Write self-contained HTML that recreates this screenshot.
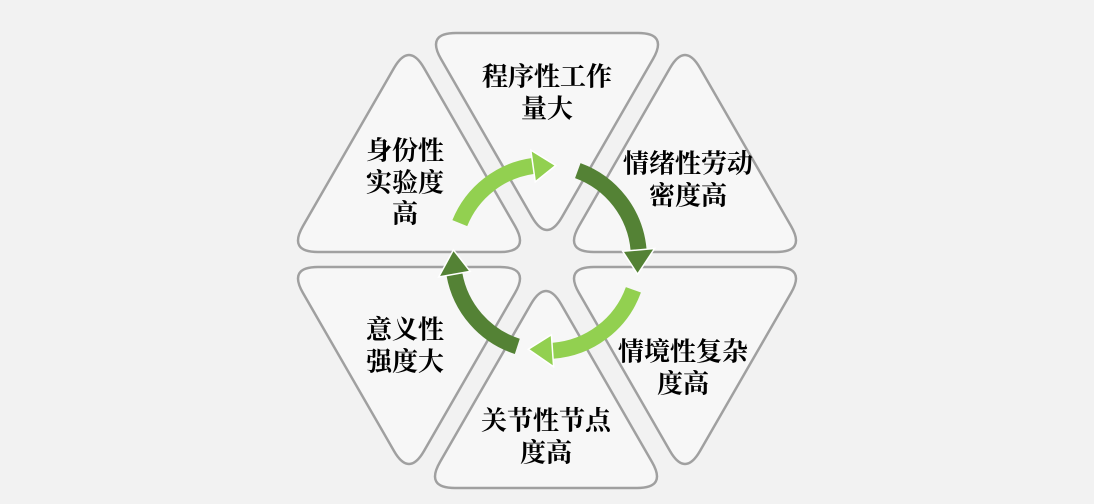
<!DOCTYPE html>
<html><head><meta charset="utf-8"><style>
html,body{margin:0;padding:0;background:#f2f2f2;}
svg{display:block}
text{font-family:"Liberation Serif","Noto Serif CJK SC",serif;font-weight:bold;font-size:26px;fill:#000;text-anchor:middle;dominant-baseline:central}
</style></head><body>
<svg width="1094" height="504" viewBox="0 0 1094 504" xmlns="http://www.w3.org/2000/svg">
<defs>
<path id="tri" d="M-15,12 Q0,-14 15,12 L106,170 Q121,196 91,196 L-91,196 Q-121,196 -106,170 Z" fill="#f7f7f7" stroke="#a0a0a0" stroke-width="2.5"/>
</defs>
<rect width="1094" height="504" fill="#f2f2f2"/>
<use href="#tri" transform="translate(547,229) scale(1,-1)"/>
<use href="#tri" transform="translate(409,56)"/>
<use href="#tri" transform="translate(685,56)"/>
<use href="#tri" transform="translate(409,463) scale(1,-1)"/>
<use href="#tri" transform="translate(685,463) scale(1,-1)"/>
<use href="#tri" transform="translate(546,292)"/>

<g stroke="#fff" stroke-width="1.5">
<path d="M459.8,223.1 A93,93 0 0 1 533.1,165.9" fill="none" stroke="#92d050" stroke-width="16"/>
<polygon points="535.3,181.8 530.8,150.1 555.7,165.5" fill="#92d050"/>
<path d="M577.8,170.6 A93,93 0 0 1 638.6,249.9" fill="none" stroke="#548235" stroke-width="16"/>
<polygon points="622.7,251.3 654.6,248.5 637.6,274.2" fill="#548235"/>
<path d="M633.4,289.8 A93,93 0 0 1 552.5,350.8" fill="none" stroke="#92d050" stroke-width="16"/>
<polygon points="551.4,334.8 553.6,366.7 528.3,349.3" fill="#92d050"/>
<path d="M517.3,346.4 A93,93 0 0 1 454.4,274.2" fill="none" stroke="#548235" stroke-width="16"/>
<polygon points="470.2,271.4 438.7,277.0 453.4,249.9" fill="#548235"/>
</g>

<text x="547" y="77">程序性工作</text>
<text x="547" y="109">量大</text>
<text x="405" y="151">身份性</text>
<text x="405" y="183">实验度</text>
<text x="405" y="214">高</text>
<text x="688" y="164">情绪性劳动</text>
<text x="688" y="196">密度高</text>
<text x="405" y="330">意义性</text>
<text x="405" y="362">强度大</text>
<text x="683" y="352">情境性复杂</text>
<text x="683" y="384">度高</text>
<text x="546" y="421">关节性节点</text>
<text x="546" y="453">度高</text>
</svg>
</body></html>
